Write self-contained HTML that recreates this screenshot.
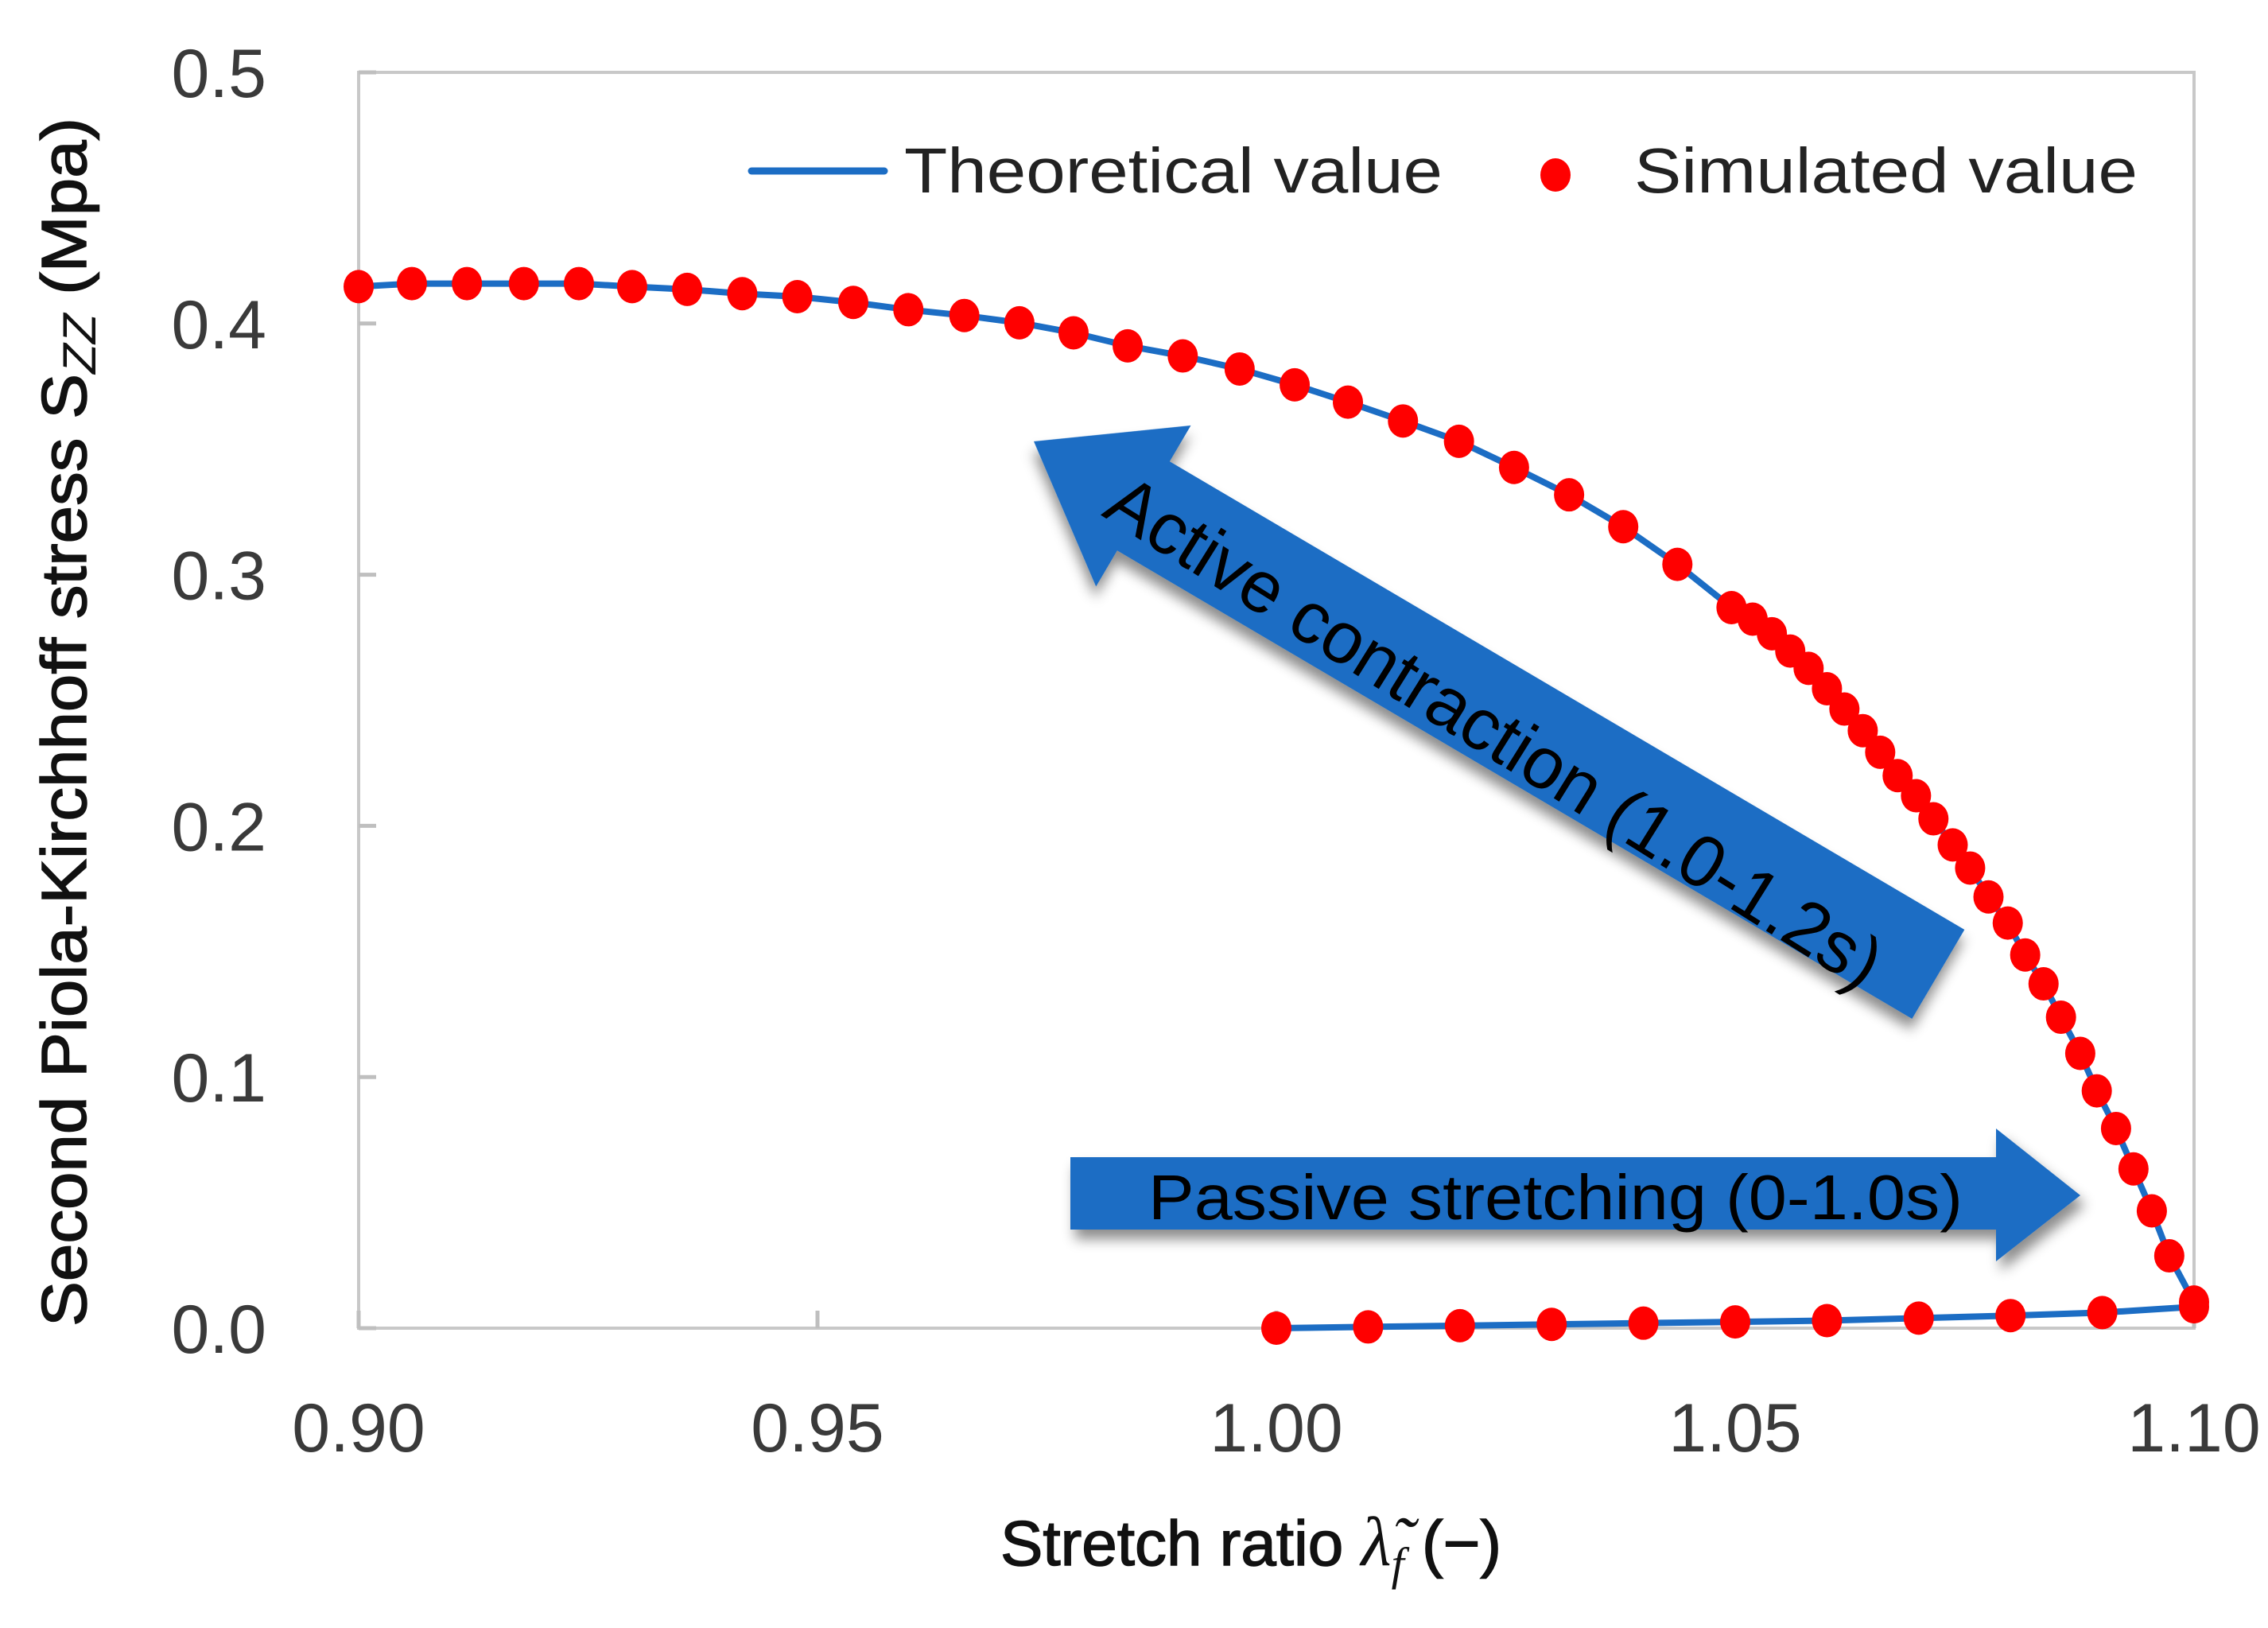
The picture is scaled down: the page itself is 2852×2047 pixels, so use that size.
<!DOCTYPE html>
<html><head><meta charset="utf-8"><style>
html,body{margin:0;padding:0;background:#fff;}
svg{display:block;}
text{font-family:"Liberation Sans",sans-serif;}
</style></head><body>
<svg id="chart" width="2852" height="2047" viewBox="0 0 2852 2047" xmlns="http://www.w3.org/2000/svg">
<defs>
<filter id="sh" x="-20%" y="-20%" width="140%" height="160%"><feDropShadow dx="6" dy="12" stdDeviation="8" flood-color="#000" flood-opacity="0.45"/></filter>
</defs>
<g id="axes"></g>
<g id="series"></g>
<g id="annot"></g>
</svg>
<script>
const xTicks=[0.90,0.95,1.00,1.05,1.10];
const xTickLabels=["0.90","0.95","1.00","1.05","1.10"];
const yTicks=[0,0.1,0.2,0.3,0.4,0.5];
const yTickLabels=["0.0","0.1","0.2","0.3","0.4","0.5"];
const passiveX=[1.00,1.01,1.02,1.03,1.04,1.05,1.06,1.07,1.08,1.09,1.10];
const passiveY=[0.0,0.0005,0.001,0.0015,0.002,0.0025,0.003,0.004,0.005,0.0062,0.0085];
const activeX=[1.100,1.0973,1.0954,1.0934,1.0915,1.0894,1.0876,1.0855,1.0836,1.0816,1.0797,1.0776,1.0756,1.0737,1.0716,1.0697,1.0677,1.0658,1.0639,1.0619,1.060,1.058,1.056,1.054,1.0519,1.0496,1.0437,1.0378,1.0319,1.0259,1.0199,1.0138,1.0078,1.002,0.996,0.9898,0.9838,0.9779,0.972,0.966,0.9599,0.9539,0.9478,0.9418,0.9358,0.9298,0.924,0.918,0.9118,0.9058,0.900];
const activeY=[0.0104,0.0288,0.0467,0.0634,0.0795,0.0945,0.1094,0.1238,0.1371,0.1486,0.1613,0.1717,0.1832,0.1924,0.2028,0.2120,0.2200,0.2293,0.2379,0.2465,0.2546,0.2627,0.2696,0.2765,0.2823,0.2869,0.3041,0.3191,0.3318,0.3427,0.3531,0.3612,0.3687,0.3756,0.3819,0.3871,0.3911,0.3963,0.4003,0.4032,0.4055,0.4084,0.4107,0.4119,0.4136,0.4147,0.4159,0.4159,0.4159,0.4159,0.4147];

const L=451,R=2759,T=91,B=1670;
const xs=v=>L+(v-0.9)/0.2*(R-L);
const ys=v=>B-(v/0.5)*(B-T);
const NS="http://www.w3.org/2000/svg";
function mk(tag,attrs,parent,txt){const e=document.createElementNS(NS,tag);for(const k in attrs)e.setAttribute(k,attrs[k]);if(txt!==undefined)e.textContent=txt;parent.appendChild(e);return e;}
const ax=document.getElementById('axes'),se=document.getElementById('series'),an=document.getElementById('annot');

let fr=mk('rect',{x:L,y:T,width:R-L,height:B-T,fill:'none',stroke:'#c8c8c8','stroke-width':4},ax);


yTicks.forEach((v,i)=>{
  let t=mk('line',{x1:L,x2:L+22,y1:ys(v),y2:ys(v),stroke:'#bfbfbf','stroke-width':5},ax);
  
  
  let lb=mk('text',{x:335,y:ys(v)+31,'text-anchor':'end','font-size':86,fill:'#3a3a3a'},ax,yTickLabels[i]);
  
  
});
xTicks.forEach((v,i)=>{
  let t=mk('line',{x1:xs(v),x2:xs(v),y1:B,y2:B-22,stroke:'#bfbfbf','stroke-width':5},ax);
  
  
  let lb=mk('text',{x:xs(v),y:1825,'text-anchor':'middle','font-size':86,fill:'#3a3a3a'},ax,xTickLabels[i]);
  
  
});
let xt=mk('text',{x:1573,y:1968,'text-anchor':'middle','font-size':80,fill:'#111','stroke':'#111','stroke-width':1.5},ax);


xt.innerHTML='Stretch ratio <tspan font-family="Liberation Serif" font-style="italic" font-size="88" stroke-width="0">λ̃</tspan><tspan font-family="Liberation Serif" font-style="italic" font-size="58" dy="18" stroke-width="0">f</tspan><tspan dy="-18">  (−)</tspan>';
let yt=mk('text',{x:0,y:0,'text-anchor':'middle','font-size':80,fill:'#111','stroke':'#111','stroke-width':1.5,textLength:1520,lengthAdjust:'spacingAndGlyphs',transform:'translate(108,908) rotate(-90)'},ax);


yt.innerHTML='Second Piola-Kirchhoff stress S<tspan font-style="italic" font-size="58" dy="12" stroke-width="0">ZZ</tspan><tspan dy="-12"> (Mpa)</tspan>';

// theoretical line
let pts=passiveX.map((v,i)=>xs(v)+','+ys(passiveY[i])).concat(activeX.map((v,i)=>xs(v)+','+ys(activeY[i])));
let ln=mk('polyline',{points:pts.join(' '),fill:'none',stroke:'#1c6dc4','stroke-width':8,'stroke-linejoin':'round'},se);


passiveX.forEach((v,i)=>{
  let c=mk('ellipse',{cx:xs(v),cy:ys(passiveY[i]),rx:19,ry:21,fill:'#ff0000'},se);
  
  
});
activeX.forEach((v,i)=>{
  let c=mk('ellipse',{cx:xs(v),cy:ys(activeY[i]),rx:19,ry:21,fill:'#ff0000'},se);
  
  
});

// legend
let lg=mk('g',{},an);


let l1=mk('line',{x1:945,x2:1112,y1:215,y2:215,stroke:'#1c6dc4','stroke-width':9,'stroke-linecap':'round'},lg);


let t1=mk('text',{x:1137,y:242,'font-size':80,fill:'#222',textLength:677,lengthAdjust:'spacingAndGlyphs'},lg,'Theoretical value');


let d1=mk('ellipse',{cx:1956,cy:220,rx:19,ry:21,fill:'#ff0000'},lg);


let t2=mk('text',{x:2055,y:242,'font-size':80,fill:'#222',textLength:633,lengthAdjust:'spacingAndGlyphs'},lg,'Simulated value');



// active arrow (drawn along +x then rotated)
const tipX=1300,tipY=555,ang=30.5,len=1320,sw=130,hw=235,hl=160;
let ag=mk('g',{transform:`translate(${tipX},${tipY}) rotate(${ang})`,filter:'url(#sh)'},an);


mk('polygon',{points:`0,0 ${hl},${-hw/2} ${hl},${-sw/2} ${len},${-sw/2} ${len},${sw/2} ${hl},${sw/2} ${hl},${hw/2}`,fill:'#1c6dc4'},ag);
let at=mk('text',{x:120,y:34,'font-size':92,fill:'#000',textLength:1130,lengthAdjust:'spacingAndGlyphs'},an,'Active contraction (1.0-1.2s)');
at.setAttribute('transform',`translate(${tipX},${tipY}) rotate(${ang+1.5})`);



// passive arrow
let pg=mk('g',{filter:'url(#sh)'},an);


mk('polygon',{points:'1346,1455 2510,1455 2510,1419 2616,1503 2510,1586 2510,1546 1346,1546',fill:'#1c6dc4'},pg);
let pt=mk('text',{x:1444,y:1533,'font-size':80,fill:'#000',textLength:1024,lengthAdjust:'spacingAndGlyphs'},an,'Passive stretching (0-1.0s)');


</script>
</body></html>
